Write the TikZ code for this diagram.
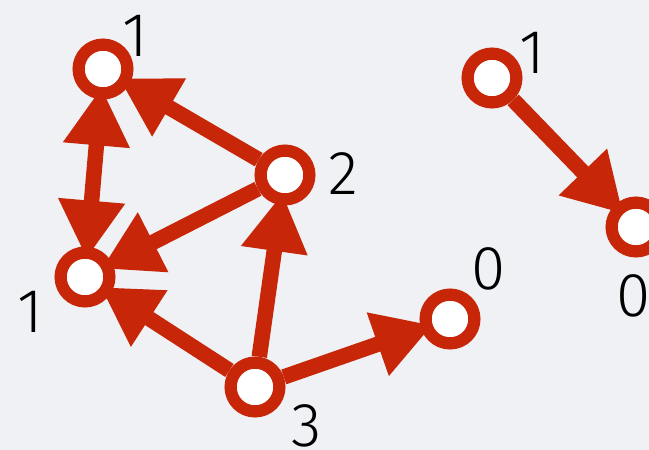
\documentclass[tikz,border=0pt]{standalone}
\usepackage{fontspec}
\setmainfont{Fira Sans Light}
\usetikzlibrary{arrows.meta}
\definecolor{nodered}{RGB}{200,38,8}
\definecolor{bgcol}{RGB}{239,241,245}
\pgfdeclarelayer{bglayer}
\pgfdeclarelayer{edgelayer}
\pgfsetlayers{bglayer,edgelayer,main}
\begin{document}
\begin{tikzpicture}[x=1pt,y=-1pt,
 vert/.style={circle,draw=nodered,fill=white,line width=12.2pt,minimum size=48.8pt,inner sep=0pt},
 lab/.style={font=\fontsize{62}{62}\selectfont,inner sep=0pt},
 edge/.style={draw=nodered,line width=15.5pt,shorten >=-12pt,-{Triangle[length=58pt,width=63pt]}},
 dedge/.style={draw=nodered,line width=15.5pt,shorten >=-12pt,shorten <=-12pt,{Triangle[length=58pt,width=63pt]}-{Triangle[length=58pt,width=63pt]}},
]
\useasboundingbox (0,0) rectangle (649,450);
\begin{pgfonlayer}{bglayer}
\fill[bgcol] (0,0) rectangle (649,450);
\end{pgfonlayer}

\node[vert] (a) at (103,69) {};
\node[vert] (b) at (85,277) {};
\node[vert] (c) at (285,175) {};
\node[vert] (d) at (255,387) {};
\node[vert] (e) at (450,319) {};
\node[vert] (f) at (492,78) {};
\node[vert] (g) at (636,227) {};

\begin{pgfonlayer}{edgelayer}
\draw[dedge] (a) -- (b);
\draw[edge] (c) -- (a);
\draw[edge] (c) -- (b);
\draw[edge] (d) -- (c);
\draw[edge] (d) -- (b);
\draw[edge] (d) -- (e);
\draw[edge] (f) -- (g);
\end{pgfonlayer}

\node[lab] (la) at (135,36) {1};
\node[lab] (lc) at (343,174) {2};
\node[lab] (lb) at (30,312) {1};
\node[lab] (ld) at (307,426) {3};
\node[lab] (le) at (489,269) {0};
\node[lab] (lf) at (532,53) {1};
\node[lab] (lg) at (634,296) {0};
\end{tikzpicture}
\end{document}
